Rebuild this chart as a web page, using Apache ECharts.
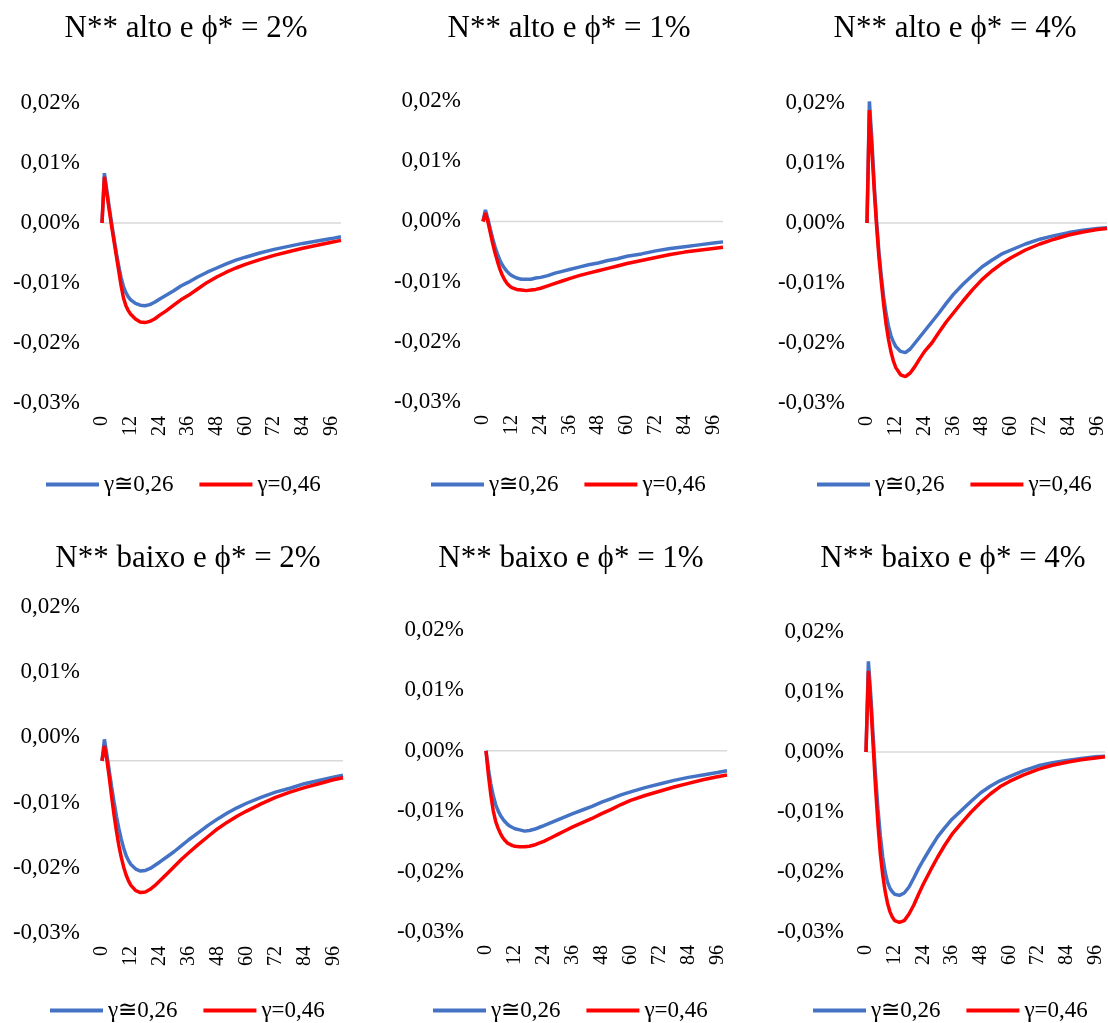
<!DOCTYPE html>
<html>
<head>
<meta charset="utf-8">
<title>Respostas ao impulso</title>
<script src="https://cdn.jsdelivr.net/npm/echarts@6/dist/echarts.min.js"></script>
<style>
  html, body { margin: 0; padding: 0; background: #ffffff; }
  #chart { width: 1108px; height: 1023px; }
</style>
</head>
<body>
<div id="chart"></div>
<script>
// Horizon (months) at which each response value is sampled
const months = [0, 1, 2, 3, 4, 5, 6, 7, 8, 9, 10, 11, 12, 14, 16, 18, 20, 22, 24, 27, 30, 33, 36,
  40, 44, 48, 52, 56, 60, 66, 72, 78, 84, 90, 96, 100];

// Responses in percent, one array per scenario and gamma value
const altoPhi2_g026 = [0, 0.0083, 0.0055, 0.0027, 0.0000, -0.0025, -0.0050, -0.0072, -0.0091, -0.0106, -0.0116, -0.0123, -0.0128,
  -0.0134, -0.0137, -0.0138, -0.0136, -0.0132, -0.0127, -0.0120, -0.0113, -0.0105, -0.0099,
  -0.0090, -0.0082, -0.0075, -0.0068, -0.0062, -0.0057, -0.0050, -0.0044, -0.0039, -0.0034, -0.0030, -0.0026, -0.0023];
const altoPhi2_g046 = [0, 0.0077, 0.0050, 0.0022, -0.0005, -0.0030, -0.0055, -0.0080, -0.0105, -0.0125, -0.0138, -0.0146, -0.0152,
  -0.0160, -0.0165, -0.0166, -0.0164, -0.0160, -0.0154, -0.0146, -0.0137, -0.0128, -0.0121,
  -0.0110, -0.0099, -0.0090, -0.0082, -0.0075, -0.0069, -0.0061, -0.0054, -0.0048, -0.0042, -0.0037, -0.0032, -0.0029];

const altoPhi1_g026 = [0, 0.0019, 0.0005, -0.0012, -0.0028, -0.0042, -0.0054, -0.0064, -0.0072, -0.0078, -0.0083, -0.0087, -0.0090,
  -0.0094, -0.0096, -0.0096, -0.0096, -0.0094, -0.0093, -0.0090, -0.0086, -0.0083, -0.0080,
  -0.0076, -0.0072, -0.0069, -0.0065, -0.0062, -0.0058, -0.0054, -0.0049, -0.0045, -0.0042, -0.0039, -0.0036, -0.0034];
const altoPhi1_g046 = [0, 0.0014, 0.0000, -0.0018, -0.0036, -0.0052, -0.0066, -0.0079, -0.0089, -0.0097, -0.0103, -0.0107, -0.0110,
  -0.0113, -0.0114, -0.0115, -0.0114, -0.0113, -0.0111, -0.0107, -0.0103, -0.0099, -0.0095,
  -0.0090, -0.0086, -0.0082, -0.0078, -0.0074, -0.0070, -0.0065, -0.0060, -0.0055, -0.0051, -0.0048, -0.0045, -0.0043];

const altoPhi4_g026 = [0, 0.0203, 0.0140, 0.0065, 0.0002, -0.0050, -0.0090, -0.0125, -0.0152, -0.0173, -0.0188, -0.0198, -0.0206,
  -0.0214, -0.0216, -0.0210, -0.0200, -0.0190, -0.0180, -0.0165, -0.0150, -0.0134, -0.0119,
  -0.0102, -0.0087, -0.0073, -0.0062, -0.0052, -0.0045, -0.0035, -0.0027, -0.0021, -0.0016, -0.0012, -0.0009, -0.0008];
const altoPhi4_g046 = [0, 0.0188, 0.0125, 0.0055, -0.0005, -0.0058, -0.0100, -0.0138, -0.0170, -0.0195, -0.0215, -0.0230, -0.0241,
  -0.0253, -0.0256, -0.0250, -0.0239, -0.0226, -0.0214, -0.0200, -0.0182, -0.0165, -0.0150,
  -0.0130, -0.0111, -0.0094, -0.0080, -0.0068, -0.0058, -0.0045, -0.0035, -0.0027, -0.0020, -0.0015, -0.0011, -0.0009];

const baixoPhi2_g026 = [0, 0.0033, 0.0010, -0.0015, -0.0040, -0.0063, -0.0085, -0.0104, -0.0120, -0.0134, -0.0145, -0.0153, -0.0159,
  -0.0166, -0.0169, -0.0168, -0.0165, -0.0160, -0.0155, -0.0147, -0.0139, -0.0130, -0.0121,
  -0.0110, -0.0099, -0.0089, -0.0080, -0.0072, -0.0065, -0.0056, -0.0048, -0.0042, -0.0035, -0.0030, -0.0025, -0.0022];
const baixoPhi2_g046 = [0, 0.0023, 0.0002, -0.0025, -0.0055, -0.0083, -0.0108, -0.0130, -0.0148, -0.0163, -0.0175, -0.0184, -0.0191,
  -0.0199, -0.0202, -0.0201, -0.0197, -0.0191, -0.0184, -0.0173, -0.0162, -0.0151, -0.0141,
  -0.0128, -0.0116, -0.0104, -0.0094, -0.0085, -0.0077, -0.0066, -0.0056, -0.0048, -0.0041, -0.0035, -0.0029, -0.0026];

const baixoPhi1_g026 = [0, -0.0030, -0.0055, -0.0074, -0.0089, -0.0099, -0.0107, -0.0113, -0.0118, -0.0122, -0.0125, -0.0127, -0.0129,
  -0.0131, -0.0133, -0.0132, -0.0130, -0.0127, -0.0124, -0.0119, -0.0114, -0.0109, -0.0104,
  -0.0098, -0.0092, -0.0085, -0.0079, -0.0073, -0.0068, -0.0061, -0.0055, -0.0049, -0.0044, -0.0040, -0.0036, -0.0033];
const baixoPhi1_g046 = [0, -0.0040, -0.0073, -0.0099, -0.0117, -0.0128, -0.0137, -0.0144, -0.0149, -0.0153, -0.0155, -0.0157, -0.0158,
  -0.0159, -0.0159, -0.0158, -0.0156, -0.0153, -0.0150, -0.0144, -0.0138, -0.0132, -0.0126,
  -0.0119, -0.0112, -0.0104, -0.0097, -0.0089, -0.0082, -0.0074, -0.0067, -0.0060, -0.0054, -0.0048, -0.0043, -0.0040];

const baixoPhi4_g026 = [0, 0.0151, 0.0095, 0.0025, -0.0040, -0.0095, -0.0140, -0.0175, -0.0200, -0.0217, -0.0227, -0.0233, -0.0237,
  -0.0239, -0.0235, -0.0225, -0.0210, -0.0194, -0.0180, -0.0160, -0.0141, -0.0126, -0.0112,
  -0.0097, -0.0082, -0.0068, -0.0057, -0.0048, -0.0041, -0.0031, -0.0023, -0.0018, -0.0014, -0.0011, -0.0008, -0.0007];
const baixoPhi4_g046 = [0, 0.0135, 0.0080, 0.0010, -0.0060, -0.0120, -0.0170, -0.0205, -0.0232, -0.0252, -0.0266, -0.0275, -0.0281,
  -0.0284, -0.0281, -0.0270, -0.0255, -0.0237, -0.0220, -0.0197, -0.0175, -0.0155, -0.0137,
  -0.0118, -0.0100, -0.0084, -0.0070, -0.0058, -0.0049, -0.0038, -0.0029, -0.0022, -0.0017, -0.0013, -0.0010, -0.0008];

// Axis ticks
const xTicks = [0, 12, 24, 36, 48, 60, 72, 84, 96];
const xRange = [0, 100];
const yTicksStd = [-0.03, -0.02, -0.01, 0, 0.01, 0.02];
// this panel's axis starts at -0,0264% and steps by 0,01%, so its labels are rounded values
const yTicksShifted = [-0.0264, -0.0164, -0.0064, 0.0036, 0.0136, 0.0236];

const seriesNames = ['\u03B3\u22450,26', '\u03B3=0,46'];
const titles = [
  'N** alto e \u03D5* = 2%', 'N** alto e \u03D5* = 1%', 'N** alto e \u03D5* = 4%',
  'N** baixo e \u03D5* = 2%', 'N** baixo e \u03D5* = 1%', 'N** baixo e \u03D5* = 4%'
];
const lowGamma = [altoPhi2_g026, altoPhi1_g026, altoPhi4_g026, baixoPhi2_g026, baixoPhi1_g026, baixoPhi4_g026];
const highGamma = [altoPhi2_g046, altoPhi1_g046, altoPhi4_g046, baixoPhi2_g046, baixoPhi1_g046, baixoPhi4_g046];
const yTickSets = [yTicksStd, yTicksStd, yTicksStd, yTicksShifted, yTicksStd, yTicksStd];

// Layout of the six panels (pixels)
const layout = [
  { grid: [102, 103, 239, 300], title: [181, 8], legend: [46, 473] },
  { grid: [483, 101, 240, 301], title: [564, 8], legend: [431, 473] },
  { grid: [867, 103, 240, 300], title: [950, 8], legend: [817, 473] },
  { grid: [102, 607, 241, 326], title: [183, 538], legend: [50, 999] },
  { grid: [486, 630, 241, 302], title: [566, 538], legend: [433, 999] },
  { grid: [866, 632, 239, 300], title: [948, 538], legend: [813, 999] }
];

const FONT = "'Liberation Serif', 'Times New Roman', 'DejaVu Serif', serif";
const BLUE = '#4472C4';
const RED = '#FF0000';

function pct(v) {
  return v.toFixed(2).replace('.', ',') + '%';
}
function pairs(ys) {
  return months.map((m, i) => [m, ys[i]]);
}

const option = {
  animation: false,
  backgroundColor: '#ffffff',
  title: [], legend: [], grid: [], xAxis: [], yAxis: [], series: []
};

layout.forEach((L, i) => {
  const ticks = yTickSets[i];
  option.title.push({
    text: titles[i], left: L.title[0], top: L.title[1], textAlign: 'center',
    textStyle: { fontFamily: FONT, fontSize: 31, fontWeight: 'normal', color: '#000000' }
  });
  option.legend.push({
    data: seriesNames, left: L.legend[0], top: L.legend[1], padding: 0,
    icon: 'rect', itemWidth: 53, itemHeight: 4, itemGap: 26,
    textStyle: { fontFamily: FONT, fontSize: 23, color: '#000000' }
  });
  option.grid.push({ left: L.grid[0], top: L.grid[1], width: L.grid[2], height: L.grid[3], containLabel: false });
  option.xAxis.push({
    type: 'value', gridIndex: i, min: xRange[0], max: xRange[1],
    axisLine: { show: false }, axisTick: { show: false }, splitLine: { show: false },
    axisLabel: {
      customValues: xTicks, rotate: 90, margin: 13,
      fontFamily: FONT, fontSize: 20, color: '#000000'
    }
  });
  option.yAxis.push({
    type: 'value', gridIndex: i, min: ticks[0], max: ticks[ticks.length - 1],
    axisLine: { show: false }, axisTick: { show: false }, splitLine: { show: false },
    axisLabel: {
      customValues: ticks, margin: 22, formatter: pct,
      fontFamily: FONT, fontSize: 23, color: '#000000'
    }
  });
  // horizontal axis line at zero
  option.series.push({
    type: 'line', xAxisIndex: i, yAxisIndex: i, silent: true, z: 1,
    data: [[xRange[0], 0], [xRange[1], 0]], symbol: 'none',
    lineStyle: { color: '#D9D9D9', width: 1.5 }, tooltip: { show: false }
  });
  option.series.push({
    name: seriesNames[0], type: 'line', xAxisIndex: i, yAxisIndex: i, z: 2,
    data: pairs(lowGamma[i]), symbol: 'none', color: BLUE,
    lineStyle: { color: BLUE, width: 3.5 }
  });
  option.series.push({
    name: seriesNames[1], type: 'line', xAxisIndex: i, yAxisIndex: i, z: 3,
    data: pairs(highGamma[i]), symbol: 'none', color: RED,
    lineStyle: { color: RED, width: 3.5 }
  });
});

const chart = echarts.init(document.getElementById('chart'), null, { renderer: 'canvas', width: 1108, height: 1023 });
chart.setOption(option);
</script>
</body>
</html>
